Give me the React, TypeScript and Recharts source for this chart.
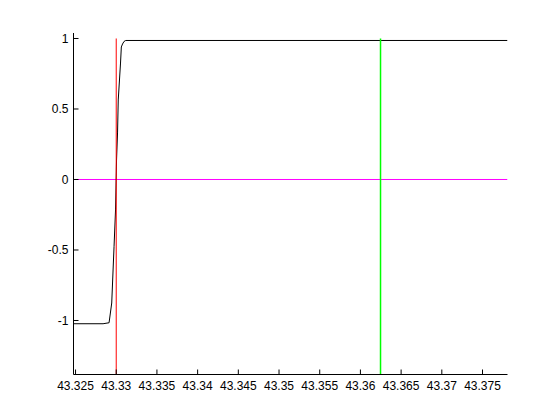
import { LineChart, Line, XAxis, YAxis } from "recharts";

const stepX = [
  43.32475, 43.32838, 43.32912, 43.329447, 43.32973, 43.329914, 43.330037, 43.33016,
  43.330246, 43.330528, 43.330627, 43.330774, 43.330958, 43.331167, 43.37807,
];
const stepY = [
  -1.023, -1.023, -1.016, -0.876, -0.477, -0.216, 0.138, 0.33,
  0.564, 0.826, 0.94, 0.961, 0.979, 0.986, 0.986,
];
const xTicks = [
  43.325, 43.33, 43.335, 43.34, 43.345, 43.35, 43.355, 43.36, 43.365, 43.37, 43.375,
];
const yTicks = [-1, -0.5, 0, 0.5, 1];
const xDomain = [43.32475, 43.37807];
const yDomain = [-1.383, 1.039];
const redMarkX = 43.33;
const greenMarkX = 43.36247;
const markTop = 1.0;

const stepData = stepX.map((x, i) => ({ x, y: stepY[i] }));
const zeroLine = [{ x: xDomain[0], y: 0 }, { x: xDomain[1], y: 0 }];
const redLine = [{ x: redMarkX, y: yDomain[0] }, { x: redMarkX, y: markTop }];
const greenLine = [{ x: greenMarkX, y: yDomain[0] }, { x: greenMarkX, y: markTop }];

const font = "'Liberation Sans', Arial, sans-serif";

const fmt = (v: number) => String(Number(v.toFixed(3)));

function XTick(props: any) {
  const { x, y, payload } = props;
  return (
    <g>
      <line x1={x} x2={x} y1={y} y2={y - 5} stroke="#000" />
      <text x={x} y={y + 15} textAnchor="middle" fontSize={12} fontFamily={font} fill="#000">
        {fmt(payload.value)}
      </text>
    </g>
  );
}

function YTick(props: any) {
  const { x, y, payload } = props;
  return (
    <g>
      <line x1={x} x2={x + 5} y1={y} y2={y} stroke="#000" />
      <text x={x - 5} y={y + 4.5} textAnchor="end" fontSize={12} fontFamily={font} fill="#000">
        {fmt(payload.value)}
      </text>
    </g>
  );
}

export default function App() {
  return (
    <div style={{ position: "absolute", left: 0, top: 0, width: 560, height: 420, background: "#fff" }}>
      <LineChart width={560} height={420} margin={{ top: 33, right: 52.5, bottom: 15.5, left: 13.5 }}>
        <XAxis
          dataKey="x"
          type="number"
          domain={xDomain}
          ticks={xTicks}
          interval={0}
          allowDataOverflow
          height={30}
          tickSize={0}
          tickMargin={0}
          tickLine={false}
          axisLine={{ stroke: "#000" }}
          tick={<XTick />}
        />
        <YAxis
          dataKey="y"
          type="number"
          domain={yDomain}
          ticks={yTicks}
          interval={0}
          allowDataOverflow
          width={60}
          tickSize={0}
          tickMargin={0}
          tickLine={false}
          axisLine={{ stroke: "#000" }}
          tick={<YTick />}
        />
        <Line data={zeroLine} dataKey="y" stroke="#ff00ff" strokeWidth={1} dot={false} isAnimationActive={false} />
        <Line data={stepData} dataKey="y" type="linear" stroke="#000" strokeWidth={1} dot={false} isAnimationActive={false} />
        <Line data={redLine} dataKey="y" stroke="#ff0000" strokeWidth={1} dot={false} isAnimationActive={false} />
        <Line data={greenLine} dataKey="y" stroke="#00ff00" strokeWidth={1.5} dot={false} isAnimationActive={false} />
      </LineChart>
    </div>
  );
}
